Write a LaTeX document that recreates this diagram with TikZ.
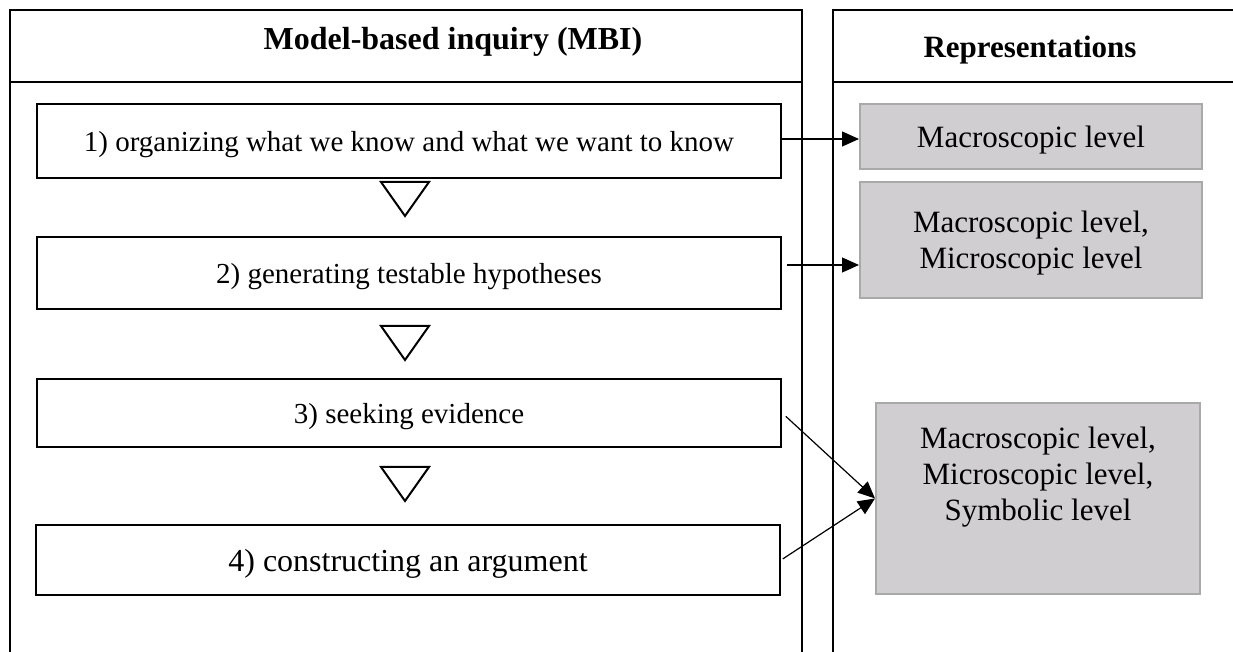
\documentclass[tikz,border=0pt]{standalone}
\usepackage{fontspec}
\setmainfont{Liberation Serif}
\usetikzlibrary{arrows.meta}
\definecolor{levelgray}{HTML}{D0CED0}
\definecolor{levelline}{HTML}{A9A9A9}
\tikzset{
    panel/.style={line width=1.35pt},
    stage/.style={draw, line width=1.15pt, minimum width=372pt, text depth=0pt, font=\fontsize{14.5}{17}\selectfont},
    level/.style={draw=levelline, fill=levelgray, line width=1pt, align=center, text depth=0pt, font=\fontsize{15.5}{18}\selectfont},
    leveltext/.style={align=center, text depth=0pt, font=\fontsize{15.5}{18}\selectfont},
    link/.style={-{Triangle[length=8.5pt,width=7.5pt]}, line width=0.6pt},
    flowtri/.style={line width=1pt, line join=miter},
}
\begin{document}
\begin{tikzpicture}[x=0.5pt, y=0.5pt]
    \useasboundingbox (0,0) rectangle (1233,652);
    \clip (0,0) rectangle (1233,652);

    % the two panels
    \draw[panel] (10,-10) -- (10,642) -- (802,642) -- (802,-10);
    \draw[panel] (10,570) -- (802,570);
    \draw[panel] (833,-10) -- (833,642) -- (1250,642);
    \draw[panel] (833,570) -- (1250,570);
    \node[anchor=base, font=\bfseries\fontsize{16}{19}\selectfont] (mbi) at (453,602) {Model-based inquiry (MBI)};
    \node[anchor=base, font=\bfseries\fontsize{15.5}{18}\selectfont] (repr) at (1030,594) {Representations};

    % inquiry stages
    \node[stage, minimum height=37pt] (s1) at (409,511) {1) organizing what we know and what we want to know};
    \node[stage, minimum height=36pt] (s2) at (409,379) {2) generating testable hypotheses};
    \node[stage, minimum height=34pt] (s3) at (409,239) {3) seeking evidence};
    \node[stage, minimum height=35pt, font=\fontsize{16}{19}\selectfont] (s4) at (408,92) {4) constructing an argument};
    \foreach \y in {470,326,185}
    {
        \draw[flowtri] (381,\y) -- (429,\y) -- (405,\y-34) -- cycle;
    }

    % levels of representation
    \node[level, minimum width=171pt, minimum height=32.5pt] (lvlA) at (1031,515.5) {Macroscopic level};
    \node[level, minimum width=171pt, minimum height=58pt] (lvlB) at (1031,412) {Macroscopic level,\\ Microscopic level};
    \node[level, minimum width=162pt, minimum height=95.5pt] (lvlC) at (1038,153.5) {};
    \node[leveltext, yshift=12.5pt] (lvlCtext) at (lvlC) {Macroscopic level,\\ Microscopic level,\\ Symbolic level};

    \draw[link] ([yshift=1pt]s1.east) -- ([yshift=1pt]s1.east -| lvlA.west);
    \draw[link, shorten <=2.5pt] ([yshift=4pt]s2.east) -- ([yshift=4pt]s2.east -| lvlB.west);
    \draw[link, shorten <=2.5pt] (s3.east) -- (lvlC.west);
    \draw[link, shorten <=1pt] (s4.east) -- (lvlC.west);
\end{tikzpicture}
\end{document}
